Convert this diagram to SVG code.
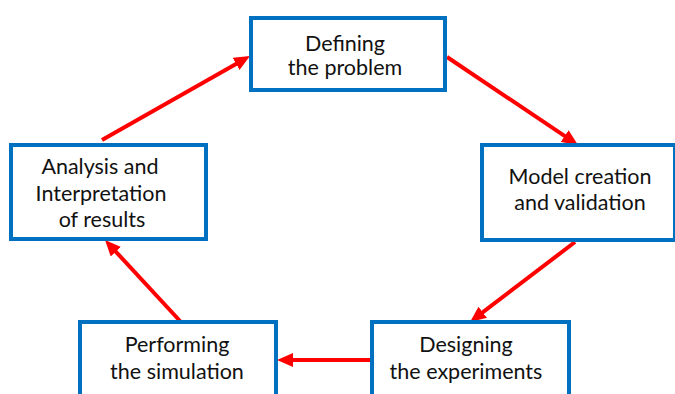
<svg xmlns="http://www.w3.org/2000/svg" width="675" height="394" viewBox="0 0 675 394">
<defs>
<style>
.box{fill:#ffffff;stroke:#0070C0;stroke-width:4}
.lbl{font-family:Lato,"Liberation Sans",sans-serif;font-size:21.5px;fill:#111111;text-anchor:middle}
.arr{stroke:#FF0000;stroke-width:4;fill:none;marker-end:url(#ah)}
</style>
<marker id="ah" viewBox="0 0 16 14" refX="6" refY="7" markerWidth="16" markerHeight="14" markerUnits="userSpaceOnUse" orient="auto">
<path d="M0,0 L16,7 L0,14 z" fill="#FF0000"/>
</marker>
</defs>
<rect width="675" height="394" fill="#ffffff"/>
<g id="connectors">
<line class="arr" x1="102" y1="140" x2="241.3" y2="60.9"/>
<line class="arr" x1="447" y1="57" x2="569.7" y2="139.4"/>
<line class="arr" x1="575" y1="242" x2="478" y2="315.9"/>
<line class="arr" x1="372" y1="360" x2="287" y2="360"/>
<line class="arr" x1="180" y1="321" x2="111.8" y2="247.3"/>
</g>
<g id="node-defining">
<rect class="box" x="251" y="18" width="194" height="72"/>
<text class="lbl" x="345" y="51">Defining</text>
<text class="lbl" x="345" y="75">the problem</text>
</g>
<g id="node-model">
<rect class="box" x="482" y="145" width="193" height="95"/>
<text class="lbl" x="580" y="183.5">Model creation</text>
<text class="lbl" x="580" y="210">and validation</text>
</g>
<g id="node-designing">
<rect class="box" x="372" y="322" width="197" height="80"/>
<text class="lbl" x="466" y="352">Designing</text>
<text class="lbl" x="466" y="378.5">the experiments</text>
</g>
<g id="node-performing">
<rect class="box" x="80" y="322" width="196" height="80"/>
<text class="lbl" x="177" y="352">Performing</text>
<text class="lbl" x="177" y="378.5">the simulation</text>
</g>
<g id="node-analysis">
<rect class="box" x="11" y="145" width="195" height="94"/>
<text class="lbl" x="100" y="174">Analysis and</text>
<text class="lbl" x="101" y="200.5">Interpretation</text>
<text class="lbl" x="102" y="227">of results</text>
</g>
</svg>
